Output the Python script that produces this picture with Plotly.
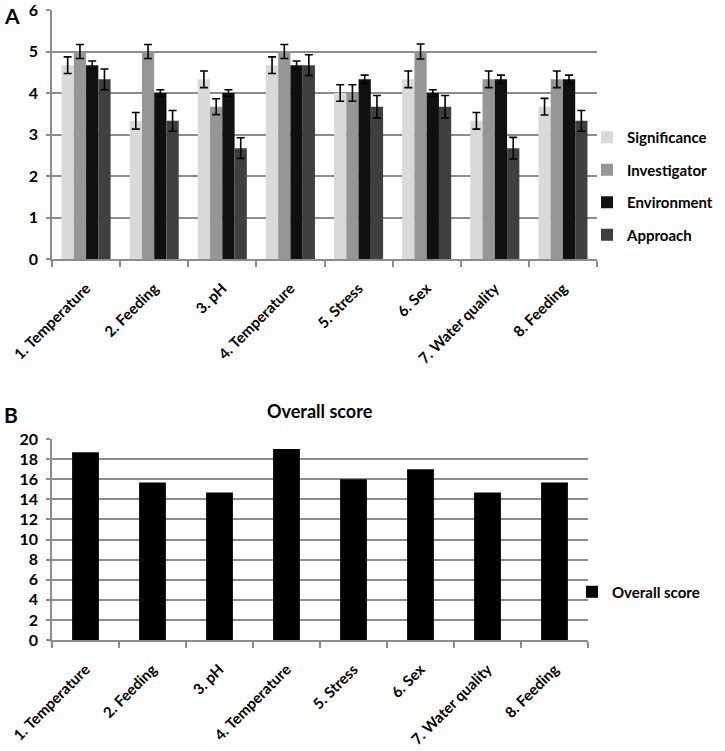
import plotly.graph_objects as go

categories = ["1. Temperature", "2. Feeding", "3. pH", "4. Temperature",
              "5. Stress", "6. Sex", "7. Water quality", "8. Feeding"]

significance = [4.67, 3.33, 4.33, 4.67, 4.0, 4.33, 3.33, 3.67]
investigator = [5.0, 5.0, 3.67, 5.0, 4.0, 5.0, 4.33, 4.33]
environment = [4.67, 4.0, 4.0, 4.67, 4.33, 4.0, 4.33, 4.33]
approach = [4.33, 3.33, 2.67, 4.67, 3.67, 3.67, 2.67, 3.33]

significance_err = [0.2, 0.2, 0.2, 0.2, 0.2, 0.2, 0.2, 0.2]
investigator_err = [0.17, 0.17, 0.19, 0.17, 0.2, 0.18, 0.2, 0.2]
environment_err = [0.1, 0.08, 0.08, 0.1, 0.1, 0.08, 0.1, 0.1]
approach_err = [0.25, 0.25, 0.25, 0.25, 0.27, 0.27, 0.26, 0.25]

overall = [18.67, 15.67, 14.67, 19.0, 16.0, 17.0, 14.67, 15.67]

series_names = ["Significance", "Investigator", "Environment", "Approach"]
series_vals = [significance, investigator, environment, approach]
series_errs = [significance_err, investigator_err, environment_err, approach_err]
series_colors = ["#d9d9d9", "#969696", "#101010", "#3f3f3f"]

FONT = "Lato"
W, H = 725, 751
GRID = "#8c8c8c"

fig = go.Figure()
for name, vals, errs, col in zip(series_names, series_vals, series_errs, series_colors):
    fig.add_trace(go.Bar(
        x=categories, y=vals, name=name, marker_color=col, marker_line_width=0,
        error_y=dict(type="data", array=errs, color="black", thickness=1.6, width=4),
        xaxis="x", yaxis="y", legend="legend", legendgroup=name,
    ))

fig.add_trace(go.Bar(
    x=categories, y=overall, name="Overall score", marker_color="#000000",
    marker_line_width=0, width=0.4, xaxis="x2", yaxis="y2", legend="legend2",
))

def px_x(p):
    return p / W

def px_y(p):
    return 1 - p / H

tickfont = dict(family=FONT, size=16, color="black", weight="bold")
catfont = dict(family=FONT, size=15, color="black", weight="bold")
legfont = dict(family=FONT, size=15, color="black", weight="bold")

common_x = dict(showline=True, linecolor=GRID, linewidth=1.5, ticks="outside",
                tickson="boundaries", tickcolor=GRID, ticklen=6, tickwidth=1.5,
                tickangle=-45, tickfont=catfont, showgrid=False, automargin=False,
                ticklabelstandoff=13, ticklabeloverflow="allow")
common_y = dict(showline=True, linecolor=GRID, linewidth=1.5, ticks="outside",
                tickcolor=GRID, ticklen=4, tickwidth=1.5, gridcolor=GRID,
                gridwidth=1.5, tickfont=tickfont, zeroline=False, automargin=False,
                ticklabelstandoff=5, ticklabeloverflow="allow")

fig.update_layout(
    width=W, height=H,
    margin=dict(l=0, r=0, t=0, b=0),
    paper_bgcolor="white", plot_bgcolor="white",
    barmode="group", bargap=0.28, bargroupgap=0,
    font=dict(family=FONT, color="black"),
    xaxis=dict(domain=[px_x(52), px_x(597)], anchor="y", **common_x),
    yaxis=dict(domain=[px_y(259), px_y(10)], anchor="x", range=[0, 6], dtick=1, **common_y),
    xaxis2=dict(domain=[px_x(52), px_x(588)], anchor="y2", **common_x),
    yaxis2=dict(domain=[px_y(640), px_y(439)], anchor="x2", range=[0, 20], dtick=2, **common_y),
    legend=dict(x=px_x(587), xanchor="left", y=px_y(186), yanchor="middle",
                font=legfont, tracegroupgap=10, bgcolor="rgba(0,0,0,0)"),
    legend2=dict(x=px_x(572), xanchor="left", y=px_y(592), yanchor="middle",
                 font=legfont, bgcolor="rgba(0,0,0,0)"),
    annotations=[
        dict(text="A", x=px_x(2), y=px_y(15), xref="paper", yref="paper",
             xanchor="left", yanchor="middle", showarrow=False,
             font=dict(family=FONT, size=21, color="black", weight="bold")),
        dict(text="B", x=px_x(2), y=px_y(414), xref="paper", yref="paper",
             xanchor="left", yanchor="middle", showarrow=False,
             font=dict(family=FONT, size=21, color="black", weight="bold")),
        dict(text="Overall score", x=px_x(320), y=px_y(411), xref="paper", yref="paper",
             xanchor="center", yanchor="middle", showarrow=False,
             font=dict(family=FONT, size=18, color="black", weight="bold")),
    ],
)

fig.write_html("out.html", config={"displayModeBar": False},
               post_script="document.body.style.margin='0';document.body.style.overflow='hidden';")
